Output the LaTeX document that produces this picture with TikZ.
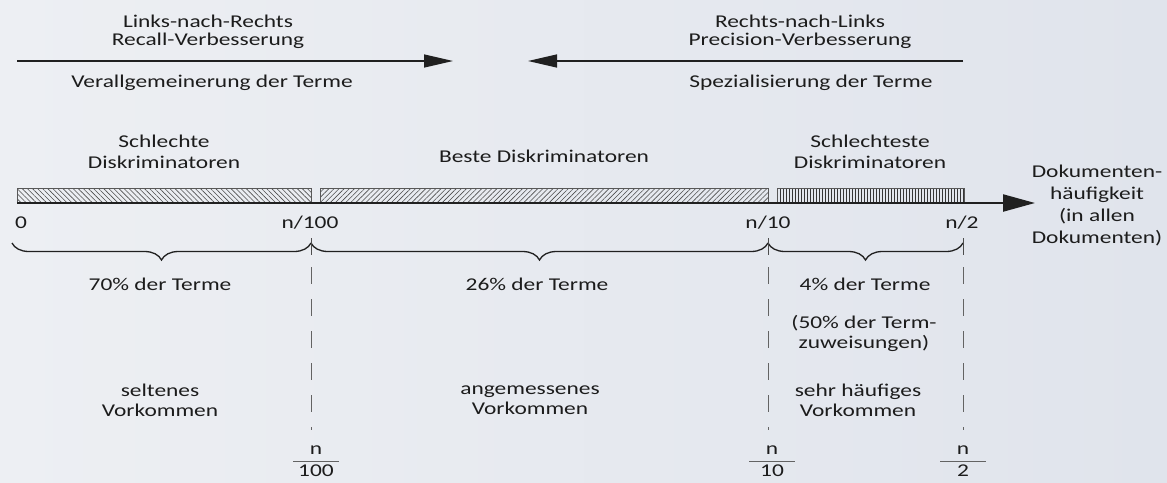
\documentclass[tikz,border=0pt]{standalone}
\usepackage{fontspec}
\setmainfont{Carlito}[FakeStretch=1.3]
\usetikzlibrary{arrows.meta,decorations.pathreplacing,patterns.meta}

\definecolor{hgA}{RGB}{237,239,243}
\definecolor{hgB}{RGB}{224,228,236}
\definecolor{schrift}{RGB}{28,28,28}
\definecolor{linie}{RGB}{32,32,32}

\tikzset{
  txt/.style={text=schrift,font=\fontsize{18}{21}\selectfont,align=center,inner sep=0pt},
  pfeil/.style={draw=linie,line width=1.4pt,-{Triangle[length=29pt,width=13pt]}},
  achse/.style={draw=linie,line width=2.2pt,-{Triangle[length=32pt,width=17pt]}},
  balken/.style={draw=linie!75,line width=0.8pt},
  klammer/.style={draw=linie,line width=1.3pt,decorate,decoration={brace,mirror,amplitude=17pt}},
  strich/.style={draw=linie!80,line width=1pt},
  trenner/.style={draw=linie!70,line width=1pt,dash pattern=on 17pt off 15pt},
  bruch/.style={draw=linie!70,line width=1.2pt}
}

\begin{document}
\begin{tikzpicture}[x=1pt,y=-1pt]
  % Hintergrund
  \useasboundingbox (0,0) rectangle (1167,482);
  \shade[left color=hgA,right color=hgB] (0,0) rectangle (1167,482);

  % Richtungspfeile oben
  \node[txt] (lr) at (208,32) {Links-nach-Rechts\\[-3pt]Recall-Verbesserung};
  \node[txt,anchor=base] (verall) at (212,87) {Verallgemeinerung der Terme};
  \coordinate (lrA) at (17,61);
  \coordinate (lrB) at (453,61);
  \draw[pfeil] (lrA) -- (lrB);

  \node[txt] (rl) at (800,32) {Rechts-nach-Links\\[-3pt]Precision-Verbesserung};
  \node[txt,anchor=base] (spez) at (811,87) {Spezialisierung der Terme};
  \coordinate (rlA) at (963,61);
  \coordinate (rlB) at (528,61);
  \draw[pfeil] (rlA) -- (rlB);

  % Diskriminatoren
  \node[txt] (schlecht) at (164,152) {Schlechte\\Diskriminatoren};
  \node[txt,anchor=base] (beste) at (544,162) {Beste Diskriminatoren};
  \node[txt] (schlechtest) at (870,152) {Schlechteste\\Diskriminatoren};

  % Balken
  \draw[balken,pattern={Lines[angle=-45,distance=3.6pt,line width=0.6pt]},pattern color=linie!80] (17,188) rectangle (311,203);
  \draw[balken,pattern={Lines[angle=45,distance=3.6pt,line width=0.6pt]},pattern color=linie!80] (320,188) rectangle (768,203);
  \draw[balken,pattern={Lines[angle=90,distance=3pt,line width=0.7pt]},pattern color=linie!90] (777,188) rectangle (964,203);

  % Achse
  \coordinate (ax0) at (17,203);
  \coordinate (ax1) at (1035,203);
  \draw[achse] (ax0) -- (ax1);
  \node[txt,font=\fontsize{18}{22}\selectfont] (doku) at (1097,205) {Dokumenten-\\h\"aufigkeit\\(in allen\\Dokumenten)};

  \node[txt,anchor=base] (l0) at (21,228) {0};
  \node[txt,anchor=base] (l100) at (310,228) {n/100};
  \node[txt,anchor=base] (l10) at (768,228) {n/10};
  \node[txt,anchor=base] (l2) at (962,228) {n/2};

  % Klammern
  \draw[klammer] (12,243) -- (311,243);
  \draw[klammer] (311,243) -- (768,243);
  \draw[klammer] (768,243) -- (963,243);

  \foreach \x in {311,768,963} {
    \draw[strich] (\x,238) -- (\x,255);
    \draw[trenner] (\x,267) -- (\x,430);
  }

  % Anteile
  \node[txt,anchor=base] (t70) at (160,290) {70\% der Terme};
  \node[txt,anchor=base] (t26) at (537,290) {26\% der Terme};
  \node[txt,anchor=base] (t4) at (865,290) {4\% der Terme};
  \node[txt,font=\fontsize{18}{20}\selectfont] (t50) at (864,333) {(50\% der Term-\\zuweisungen)};

  % Vorkommen
  \node[txt,font=\fontsize{18}{20}\selectfont] (selten) at (160,400) {seltenes\\Vorkommen};
  \node[txt,font=\fontsize{18}{20}\selectfont] (angem) at (530,400) {angemessenes\\Vorkommen};
  \node[txt,font=\fontsize{18}{20}\selectfont] (haeufig) at (858,400) {sehr h\"aufiges\\Vorkommen};

  % Brueche
  \node[txt] (n100) at (316,450) {n};
  \node[txt,anchor=north] (d100) at (316,465) {100};
  \draw[bruch] ([shift={(-23pt,3.5pt)}]d100.north) -- ([shift={(23pt,3.5pt)}]d100.north);

  \node[txt] (n10) at (772,450) {n};
  \node[txt,anchor=north] (d10) at (772,465) {10};
  \draw[bruch] ([shift={(-23pt,3.5pt)}]d10.north) -- ([shift={(23pt,3.5pt)}]d10.north);

  \node[txt] (n2) at (963,450) {n};
  \node[txt,anchor=north] (d2) at (963,465) {2};
  \draw[bruch] ([shift={(-23pt,3.5pt)}]d2.north) -- ([shift={(23pt,3.5pt)}]d2.north);
\end{tikzpicture}
\end{document}
